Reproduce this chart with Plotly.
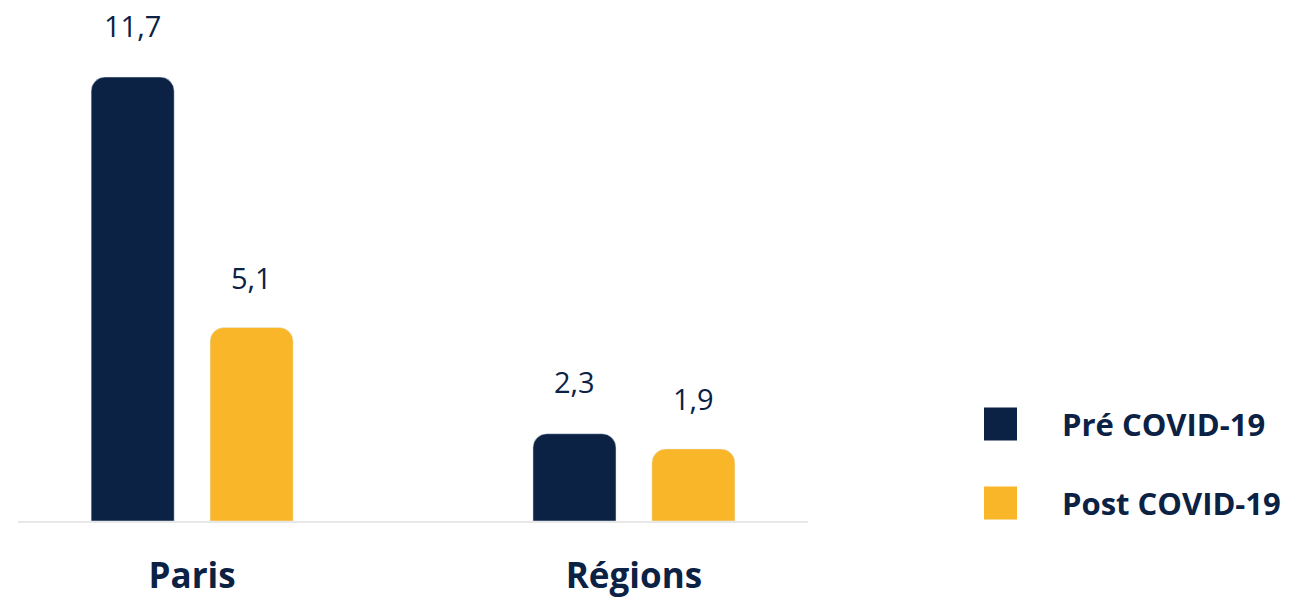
import plotly.graph_objects as go

categories = ["Paris", "Régions"]
pre_covid = [11.7, 2.3]
post_covid = [5.1, 1.9]
series_names = ["Pré COVID-19", "Post COVID-19"]
value_labels_pre = ["11,7", "2,3"]
value_labels_post = ["5,1", "1,9"]

NAVY = "#0B2245"
YELLOW = "#F9B628"
FONT = "Open Sans"

x_idx = list(range(len(categories)))
bar_w = 0.188
off_pre = -0.2285
off_post = 0.0407

fig = go.Figure()
fig.add_trace(go.Bar(x=x_idx, y=pre_covid, name=series_names[0], marker_color=NAVY,
                     width=bar_w, offset=off_pre, showlegend=False, hoverinfo="skip"))
fig.add_trace(go.Bar(x=x_idx, y=post_covid, name=series_names[1], marker_color=YELLOW,
                     width=bar_w, offset=off_post, showlegend=False, hoverinfo="skip"))

annotations = []
for i in x_idx:
    annotations.append(dict(x=i + off_pre + bar_w / 2, y=pre_covid[i], text=value_labels_pre[i],
                            showarrow=False, yshift=52, yanchor="middle",
                            font=dict(family=FONT, size=29, color=NAVY)))
    annotations.append(dict(x=i + off_post + bar_w / 2, y=post_covid[i], text=value_labels_post[i],
                            showarrow=False, yshift=50, yanchor="middle",
                            font=dict(family=FONT, size=29, color=NAVY)))

# manual legend
shapes = []
legend_colors = [NAVY, YELLOW]
legend_y = [424, 503]
H = 597
W = 1298
PW = W - 18 - 490
for name, col, yc in zip(series_names, legend_colors, legend_y):
    shapes.append(dict(type="rect", xref="paper", yref="paper",
                       x0=(984 - 18) / PW, x1=(1017 - 18) / PW,
                       y0=(521 - (yc - 16.5)) / 521, y1=(521 - (yc + 16.5)) / 521,
                       fillcolor=col, line=dict(width=0)))
    annotations.append(dict(xref="paper", yref="paper", x=(1060 - 18) / PW,
                            y=(521 - yc) / 521, xanchor="left", yanchor="middle",
                            text="<b>" + name + "</b>", showarrow=False,
                            font=dict(family=FONT, size=31, color=NAVY)))

fig.update_layout(
    width=W, height=H,
    margin=dict(l=18, r=490, t=0, b=76),
    paper_bgcolor="white", plot_bgcolor="white",
    barcornerradius=14,
    xaxis=dict(range=[-0.394, 1.394], tickvals=x_idx,
               ticktext=["<b>" + c + "</b>" for c in categories],
               tickfont=dict(family=FONT, size=35, color=NAVY),
               showgrid=False, zeroline=False, showline=True, linecolor="#E8E8E8", linewidth=2,
               ticks="", ticklabelstandoff=23),
    yaxis=dict(range=[0, 13.73], visible=False, showgrid=False, zeroline=False),
    annotations=annotations, shapes=shapes,
)

fig.write_html("out.html", config={"displayModeBar": False},
               post_script="document.body.style.margin='0';document.body.style.overflow='hidden';")
